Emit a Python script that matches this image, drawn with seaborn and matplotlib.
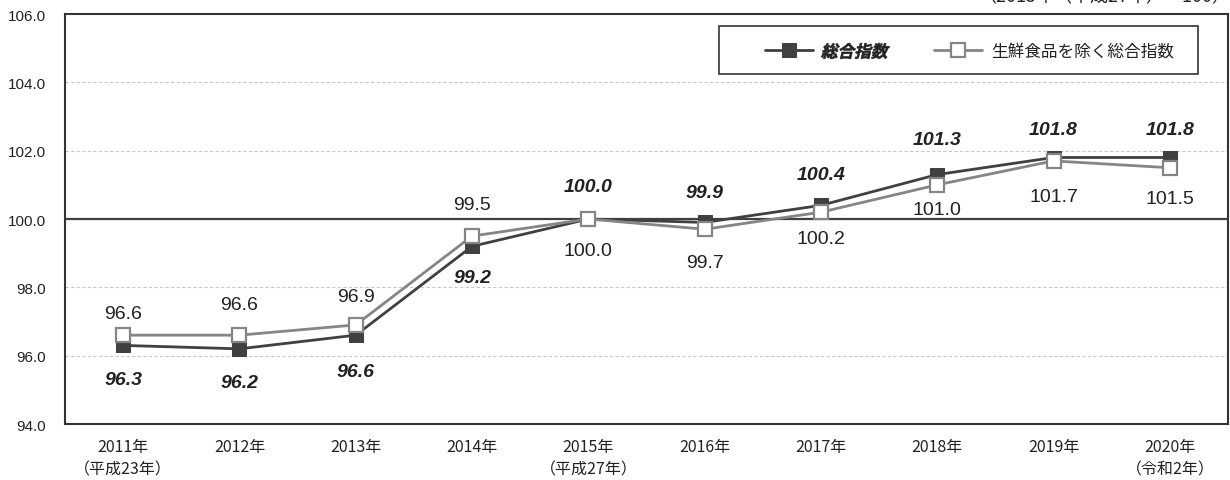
import numpy as np
import pandas as pd
import matplotlib
matplotlib.use("Agg")
import matplotlib.pyplot as plt
import seaborn as sns
from matplotlib.patches import Rectangle, PathPatch
from matplotlib.textpath import TextPath
from matplotlib.font_manager import FontProperties
from matplotlib.transforms import Affine2D, IdentityTransform

# データ
# ==============================================================================
years = ["2011年\n（平成23年）", "2012年", "2013年", "2014年", "2015年\n（平成27年）",
         "2016年", "2017年", "2018年", "2019年", "2020年\n（令和2年）"]
sogo = [96.3, 96.2, 96.6, 99.2, 100.0, 99.9, 100.4, 101.3, 101.8, 101.8]
seisen_nozoku = [96.6, 96.6, 96.9, 99.5, 100.0, 99.7, 100.2, 101.0, 101.7, 101.5]
series_names = ["総合指数", "生鮮食品を除く総合指数"]
y_ticks = [94, 96, 98, 100, 102, 104, 106]
note = "（2015年（平成27年）＝100）"

# ラベル位置（データ座標）
label_y_sogo = [95.30, 95.21, 95.53, 98.28, 100.94, 100.79, 101.29, 102.34, 102.63, 102.63]
label_y_sub = [97.22, 97.51, 97.72, 100.41, 99.09, 98.74, 99.42, 100.29, 100.67, 100.59]

# 描画
# ==============================================================================
sns.set_style("white")
plt.rcParams['font.family'] = ['Liberation Sans', 'Noto Sans CJK JP', 'DejaVu Sans']
jp = ['Noto Sans CJK JP', 'DejaVu Sans']

dark = "#404040"
gray = "#858585"
ink = "#222222"

fig = plt.figure(figsize=(12.3, 4.81), dpi=100)
ax = fig.add_axes([65 / 1230, 1 - 425 / 481, 1163 / 1230, 410 / 481])

df = pd.DataFrame({"year": years, series_names[0]: sogo, series_names[1]: seisen_nozoku})
df["pos"] = np.arange(len(years))

sns.lineplot(data=df, x="pos", y=series_names[0], ax=ax, color=dark, lw=2,
             marker="s", markersize=10, markerfacecolor=dark, markeredgecolor=dark,
             label=series_names[0], zorder=4)
sns.lineplot(data=df, x="pos", y=series_names[1], ax=ax, color=gray, lw=2,
             marker="s", markersize=10, markerfacecolor="white", markeredgecolor=gray,
             markeredgewidth=1.6, label=series_names[1], zorder=5)

ax.axhline(100, color=dark, lw=1.6, zorder=3)
for t in y_ticks[1:-1]:
    if t != 100:
        ax.axhline(t, color="#c8c8c8", lw=0.8, ls=(0, (3, 2)), zorder=1)

for i in range(len(years)):
    ax.text(i, label_y_sogo[i], f"{sogo[i]:.1f}", ha="center", va="center",
            fontsize=14, fontweight="bold", fontstyle="italic", color=ink, zorder=6)
    ax.text(i, label_y_sub[i], f"{seisen_nozoku[i]:.1f}", ha="center", va="center",
            fontsize=14, color=ink, zorder=6)

ax.set_xlim(-0.5, len(years) - 0.5)
ax.set_ylim(94, 106)
ax.set_yticks(y_ticks)
ax.set_yticklabels([f"{t:.1f}" for t in y_ticks], fontsize=11)
ax.set_xticks(range(len(years)))
ax.set_xticklabels(years, fontsize=11.5, family=jp, linespacing=1.45)
ax.tick_params(axis="y", length=0, pad=14, colors=ink)
ax.tick_params(axis="x", length=0, pad=10, colors=ink)
ax.set_xlabel("")
ax.set_ylabel("")
for s in ax.spines.values():
    s.set_color("#333333")
    s.set_linewidth(1.5)

# 凡例
box = Rectangle(((719 - 65) / 1163, 1 - (75 - 15) / 410), (1198 - 719) / 1163, 48 / 410,
                transform=ax.transAxes, facecolor="white", edgecolor="#333333",
                lw=1.2, zorder=6)
ax.add_patch(box)
leg = ax.legend(loc="center left", bbox_to_anchor=((765 - 65) / 1163, 1 - (52 - 15) / 410),
                ncol=2, frameon=False, handlelength=2.9, handletextpad=0.55,
                columnspacing=2.7, borderpad=0, borderaxespad=0,
                prop={"family": jp, "size": 12})
leg.set_zorder(7)
for t in leg.get_texts():
    t.set_color(ink)

# 「総合指数」を太字斜体風に描く
fig.canvas.draw()
t0 = leg.get_texts()[0]
bb = t0.get_window_extent()
t0.set_color("none")
fp = FontProperties(family="Noto Sans CJK JP", weight="bold")
tp = TextPath((0, 0), series_names[0], prop=fp, size=12 * 100 / 72)
ext = tp.get_extents()
tr = (Affine2D().translate(-ext.x0, -(ext.y0 + ext.y1) / 2).skew_deg(13, 0)
      .translate(bb.x0, (bb.y0 + bb.y1) / 2))
fig.add_artist(PathPatch(tr.transform_path(tp), transform=IdentityTransform(),
                         facecolor=ink, edgecolor=ink, lw=0.4, zorder=10))

fig.text(1.0, 1.005, note, ha="right", va="center", fontsize=13, family=jp, color=ink)

fig.savefig("out.png", dpi=100)
